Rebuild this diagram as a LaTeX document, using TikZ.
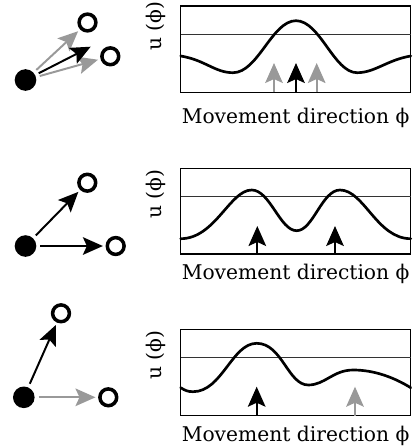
\documentclass[tikz,border=0pt]{standalone}
\usepackage{fontspec}
\setmainfont{DejaVu Serif}
\usetikzlibrary{arrows.meta}
\definecolor{paleArrow}{gray}{0.6}

\begin{document}
\begin{tikzpicture}[x=0.025cm, y=-0.025cm,
    dot/.style={circle, fill=black, inner sep=0pt, minimum size=0.54cm, outer sep=0.1cm},
    ring/.style={circle, draw=black, line width=2.5pt, inner sep=0pt, minimum size=0.42cm, outer sep=0.11cm},
    pull/.style={-{Stealth[length=0.5cm, width=0.44cm, inset=0.1cm]}, line width=1.4pt},
    frame/.style={line width=0.9pt},
    level/.style={black!80, line width=0.6pt},
    field/.style={line width=1.9pt, line cap=round},
    txt/.style={font=\fontsize{14.4}{17}\selectfont, inner sep=0pt}]
  \useasboundingbox (0,0) rectangle (413,448);

  % --- top row: two targets, averaged direction
  \node[dot] (dotA) at (25.5,80) {};
  \node[ring] (ringA1) at (87.5,22.5) {};
  \node[ring] (ringA2) at (110.3,56.3) {};
  \coordinate (meanA) at (90.7,46.7);
  \draw[pull, paleArrow] (dotA) -- (ringA1);
  \draw[pull, paleArrow] (dotA) -- (ringA2);
  \draw[pull] (dotA) -- (meanA);

  \draw[frame] (180.7,6) rectangle (410.7,92.3);
  \draw[level] (180.7,34.7) -- (410.7,34.7);
  \draw[field] (180.7,56) .. controls (205,60) and (215,72.7) .. (233,72.7)
    .. controls (258,72.7) and (272,20.7) .. (296,20.7)
    .. controls (320,20.7) and (334,72.7) .. (357,72.7)
    .. controls (375,72.7) and (387,60) .. (410.7,56);
  \foreach \px/\col in {274/paleArrow, 316.7/paleArrow, 296/black}
    \draw[pull, \col] (\px,92.3) -- (\px,63);
  \node[txt, rotate=90] (ylabA) at (155.5,26) {u (ϕ)};
  \node[txt, anchor=base west] (xlabA) at (181.5,123) {Movement direction ϕ};

  % --- middle row: two separate peaks
  \node[dot] (dotB) at (25.5,246) {};
  \node[ring] (ringB1) at (87.3,182.7) {};
  \node[ring] (ringB2) at (115.7,246) {};
  \draw[pull] (dotB) -- (ringB1);
  \draw[pull] (dotB) -- (ringB2);

  \draw[frame] (180.7,168.3) rectangle (410.7,254);
  \draw[level] (180.7,196.7) -- (410.7,196.7);
  \draw[field] (180.7,238.7) .. controls (215,238.7) and (230,190) .. (251.7,190)
    .. controls (270,190) and (280,230.7) .. (296.7,230.7)
    .. controls (313,230.7) and (322,190) .. (340,190)
    .. controls (364,190) and (377,238.7) .. (410.7,238.7);
  \foreach \px in {257.3, 335}
    \draw[pull] (\px,254) -- (\px,226);
  \node[txt, rotate=90] (ylabB) at (155.5,194) {u (ϕ)};
  \node[txt, anchor=base west] (xlabB) at (181.5,279) {Movement direction ϕ};

  % --- bottom row: one strong, one weak peak
  \node[dot] (dotC) at (23.8,397.3) {};
  \node[ring] (ringC1) at (61,313.3) {};
  \node[ring] (ringC2) at (108.3,397.3) {};
  \draw[pull] (dotC) -- (ringC1);
  \draw[pull, paleArrow] (dotC) -- (ringC2);

  \draw[frame] (180.7,329.3) rectangle (410.7,415.7);
  \draw[level] (180.7,357.7) -- (410.7,357.7);
  \draw[field] (180.7,387.7) .. controls (185,390.5) and (188,391.7) .. (193,391.7)
    .. controls (222,391.7) and (232,343.3) .. (256.7,343.3)
    .. controls (282,343.3) and (288,385) .. (308.3,385)
    .. controls (325,385) and (333,370) .. (353.3,370)
    .. controls (375,370) and (395,378) .. (410.7,387.7);
  \draw[pull] (256.7,415.7) -- (256.7,386.7);
  \draw[pull, paleArrow] (355,415.7) -- (355,386.7);
  \node[txt, rotate=90] (ylabC) at (155.5,355) {u (ϕ)};
  \node[txt, anchor=base west] (xlabC) at (181.5,441.7) {Movement direction ϕ};
\end{tikzpicture}
\end{document}
